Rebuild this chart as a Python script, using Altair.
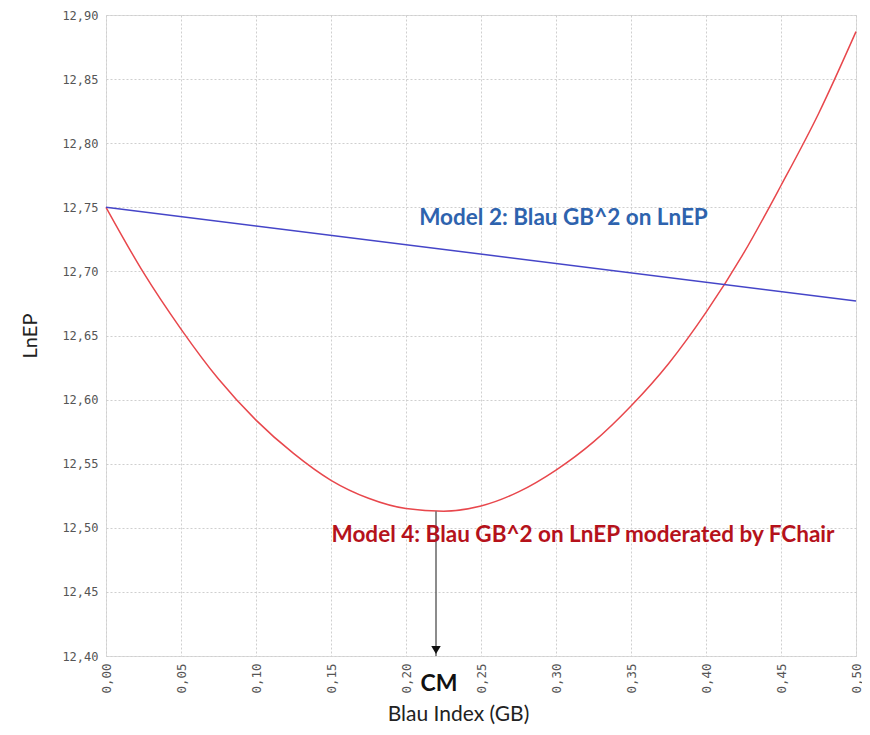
import altair as alt
import pandas as pd

# Model 4 (red curve)
red_x = [0.0, 0.025, 0.05, 0.075, 0.10, 0.125, 0.15, 0.175, 0.20, 0.225,
         0.25, 0.275, 0.30, 0.325, 0.35, 0.375, 0.40, 0.425, 0.45, 0.475, 0.50]
red_y = [12.750, 12.699, 12.655, 12.616, 12.584, 12.558, 12.537, 12.523, 12.515, 12.513,
         12.517, 12.528, 12.545, 12.567, 12.595, 12.628, 12.668, 12.714, 12.767, 12.823, 12.887]

# Model 2 (blue line)
blue_x = [0.0, 0.50]
blue_y = [12.750, 12.677]

x_ticks = [0.0, 0.05, 0.10, 0.15, 0.20, 0.25, 0.30, 0.35, 0.40, 0.45, 0.50]
y_ticks = [12.40, 12.45, 12.50, 12.55, 12.60, 12.65, 12.70, 12.75, 12.80, 12.85, 12.90]

cm_x = 0.22
cm_top = 12.513
y_min = 12.40

label2 = "Model 2: Blau GB^2 on LnEP"
label2_pos = (0.305, 12.742)
label4 = "Model 4: Blau GB^2 on LnEP moderated by FChair"
label4_pos = (0.318, 12.494)

red_df = pd.DataFrame({"x": red_x, "y": red_y})
blue_df = pd.DataFrame({"x": blue_x, "y": blue_y})

xs = alt.Scale(domain=[0, 0.5], nice=False, zero=False)
ys = alt.Scale(domain=[12.40, 12.90], nice=False, zero=False)

x_axis = alt.Axis(values=x_ticks, labelExpr="replace(format(datum.value, '.2f'), '.', ',')",
                  labelAngle=270, labelFont="DejaVu Sans Mono", labelFontSize=12.5,
                  labelColor="#555", labelPadding=7, ticks=False, domain=False,
                  grid=True, gridColor="#cfcfcf", gridDash=[2, 2],
                  title="Blau Index (GB)", titleFont="Lato", titleFontSize=21,
                  titleFontWeight="normal", titleColor="#222", titlePadding=10, titleX=352)
y_axis = alt.Axis(values=y_ticks, labelExpr="replace(format(datum.value, '.2f'), '.', ',')",
                  labelFont="DejaVu Sans Mono", labelFontSize=12, labelColor="#555",
                  labelPadding=8, ticks=False, domain=False,
                  grid=True, gridColor="#cfcfcf", gridDash=[2, 2],
                  title="LnEP", titleFont="Lato", titleFontSize=20,
                  titleFontWeight="normal", titleColor="#222", titlePadding=21)

red = alt.Chart(red_df).mark_line(color="#E8474C", strokeWidth=1.5, interpolate="monotone").encode(
    x=alt.X("x:Q", scale=xs, axis=x_axis),
    y=alt.Y("y:Q", scale=ys, axis=y_axis),
)
blue = alt.Chart(blue_df).mark_line(color="#4545C8", strokeWidth=1.5).encode(
    x=alt.X("x:Q", scale=xs), y=alt.Y("y:Q", scale=ys))

cm_df = pd.DataFrame({"x": [cm_x], "y": [cm_top], "y2": [y_min], "t": ["CM"]})
arrow = alt.Chart(cm_df).mark_rule(color="#666", strokeWidth=1.5).encode(
    x=alt.X("x:Q", scale=xs), y=alt.Y("y:Q", scale=ys), y2="y2:Q")
head = alt.Chart(cm_df).mark_point(shape="triangle-down", filled=True, color="#111",
                                   size=90, opacity=1, yOffset=-6).encode(
    x=alt.X("x:Q", scale=xs), y=alt.Y("y2:Q", scale=ys))
cm_text = alt.Chart(cm_df).mark_text(font="Lato", fontSize=23, fontWeight="bold",
                                     color="#111", dy=28, dx=3).encode(
    x=alt.X("x:Q", scale=xs), y=alt.Y("y2:Q", scale=ys), text="t:N")

lab_df = pd.DataFrame({"x": [label2_pos[0], label4_pos[0]], "y": [label2_pos[1], label4_pos[1]],
                       "t": [label2, label4], "c": ["#2E63AE", "#B5121B"]})
labels = alt.Chart(lab_df).mark_text(font="Lato", fontSize=22.5, fontWeight="bold").encode(
    x=alt.X("x:Q", scale=xs), y=alt.Y("y:Q", scale=ys), text="t:N",
    color=alt.Color("c:N", scale=None))

chart = alt.layer(red, blue, arrow, head, cm_text, labels).properties(
    width=750, height=641,
    autosize=alt.AutoSizeParams(type="none"),
    padding={"left": 98, "top": 7, "right": 6, "bottom": 71},
).configure_view(stroke="#b5b5b5", strokeWidth=1.5).configure(background="white")

chart.save("out.html", embed_options={"renderer": "svg", "actions": False})
